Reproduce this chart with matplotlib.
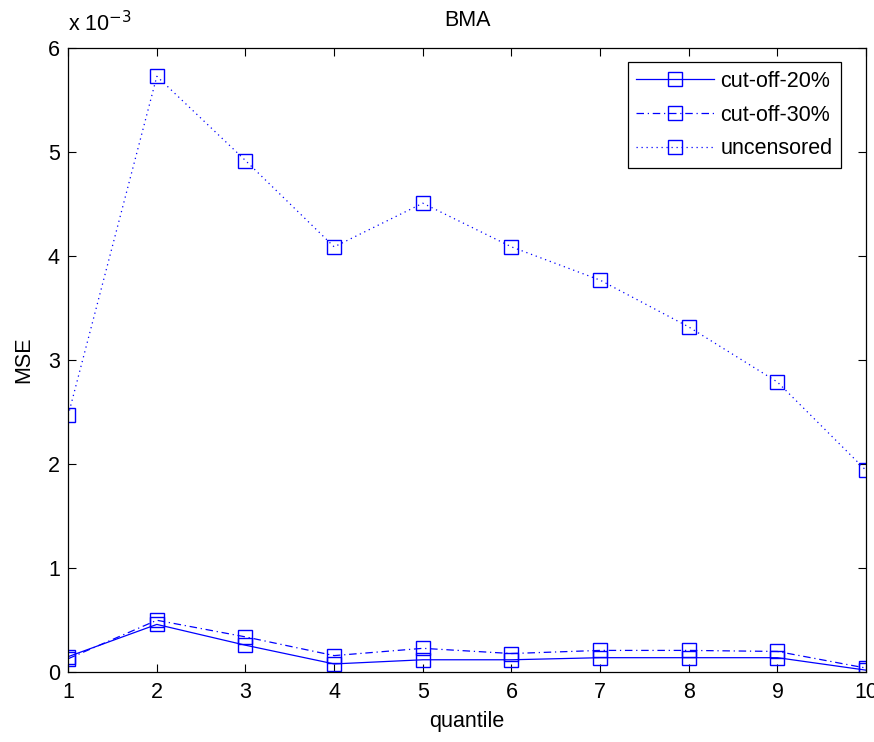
import numpy as np
import matplotlib.pyplot as plt

plt.rcParams['font.family'] = ['Liberation Sans', 'DejaVu Sans']

# dane (MSE w jednostkach 1e-3)
quantile = np.arange(1, 11)
cut20 = [0.15, 0.46, 0.26, 0.08, 0.12, 0.12, 0.14, 0.14, 0.14, 0.02]
cut30 = [0.13, 0.50, 0.34, 0.16, 0.23, 0.18, 0.21, 0.21, 0.20, 0.04]
uncens = [2.47, 5.73, 4.92, 4.09, 4.51, 4.09, 3.77, 3.32, 2.79, 1.94]
labels = ['cut-off-20%', 'cut-off-30%', 'uncensored']

fs = 15.5
fig = plt.figure(figsize=(8.74, 7.42), dpi=100)
ax = fig.add_axes([0.078, 0.094, 0.913, 0.841])

kw = dict(color='b', marker='s', markersize=10.5, markerfacecolor='none',
          markeredgecolor='b', linewidth=0.9, markeredgewidth=1.0)
ax.plot(quantile, cut20, linestyle='-', label=labels[0], **kw)
ax.plot(quantile, cut30, linestyle=(0, (6, 3, 1, 3)), label=labels[1], **kw)
ax.plot(quantile, uncens, linestyle=(0, (1, 3)), label=labels[2], **kw)

ax.set_xlim(1, 10)
ax.set_ylim(0, 6)
ax.set_xticks(range(1, 11))
ax.set_yticks(range(0, 7))
ax.tick_params(direction='in', top=True, right=True, labelsize=fs, length=6)
ax.tick_params(axis='x', pad=7)
ax.tick_params(axis='y', pad=6)
for s in ax.spines.values():
    s.set_linewidth(0.9)
ax.set_xlabel('quantile', fontsize=fs, labelpad=6)
ax.set_ylabel('MSE', fontsize=fs, labelpad=10)
ax.set_title('BMA', fontsize=fs, pad=16)
ax.text(0.0, 1.02, r'x 10$^{-3}$', transform=ax.transAxes, fontsize=fs,
        ha='left', va='bottom')

leg = ax.legend(loc='upper right', fontsize=fs, fancybox=False, framealpha=1,
                edgecolor='k', handlelength=3.6, handletextpad=0.3,
                borderaxespad=0, bbox_to_anchor=(841 / 874, 1 - 62 / 742),
                bbox_transform=fig.transFigure, labelspacing=0.6)
leg.get_frame().set_linewidth(0.9)

fig.savefig('out.png', dpi=100)
